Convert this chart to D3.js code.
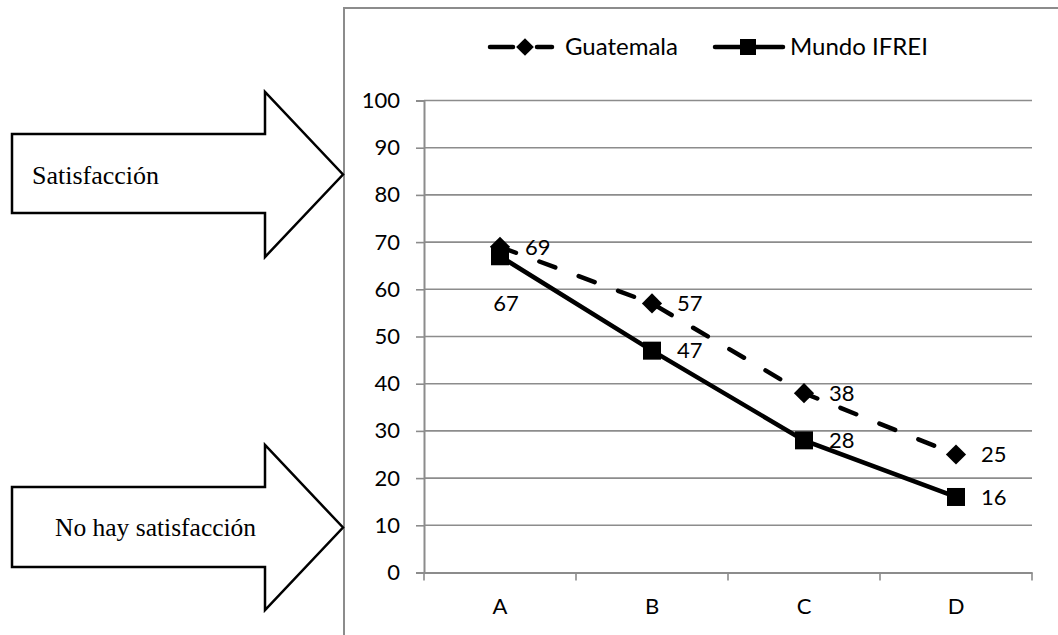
<!DOCTYPE html>
<html>
<head>
<meta charset="utf-8">
<script src="https://cdn.jsdelivr.net/npm/d3@7/dist/d3.min.js"></script>
<style>
  html, body { margin: 0; padding: 0; background: #fff; }
  svg { display: block; }
</style>
</head>
<body>
<svg id="chart" width="1058" height="635"></svg>
<script>
// Categories and the two series
const categories = ["A", "B", "C", "D"];
const guatemala = [69, 57, 38, 25];
const mundoIfrei = [67, 47, 28, 16];
const seriesNames = ["Guatemala", "Mundo IFREI"];
const yTicks = [0, 10, 20, 30, 40, 50, 60, 70, 80, 90, 100];
const arrowLabels = ["Satisfacción", "No hay satisfacción"];

const svg = d3.select("#chart");
const sans = "Lato, 'Open Sans', sans-serif";
const serif = "'Liberation Serif', 'Times New Roman', serif";
const grey = "#8c8c8c";

// Chart frame (continues past the right and bottom edges)
svg.append("rect")
  .attr("x", 344).attr("y", 8)
  .attr("width", 760).attr("height", 680)
  .attr("fill", "none").attr("stroke", grey).attr("stroke-width", 2);

// Scales
const x = d3.scaleBand().domain(categories).range([424, 1032]);
const y = d3.scaleLinear().domain([0, 100]).range([572.5, 100.5]);
const cx = c => x(c) + x.bandwidth() / 2;

// Horizontal gridlines
svg.append("g").selectAll("line")
  .data(yTicks.filter(t => t > 0))
  .join("line")
  .attr("x1", 424).attr("x2", 1032)
  .attr("y1", d => y(d)).attr("y2", d => y(d))
  .attr("stroke", grey).attr("stroke-width", 1.6);

// Y axis
const yAxis = svg.append("g")
  .attr("transform", "translate(424,0)")
  .call(d3.axisLeft(y).tickValues(yTicks).tickSize(8).tickPadding(16));
yAxis.select(".domain").attr("stroke", grey).attr("stroke-width", 2);
yAxis.selectAll(".tick line").attr("stroke", grey).attr("stroke-width", 1.6);
yAxis.selectAll("text").attr("font-family", sans).attr("font-size", 22).attr("fill", "#000");

// X axis: labels centred on categories, ticks on category boundaries
const xAxis = svg.append("g")
  .attr("transform", `translate(0,${y(0)})`)
  .call(d3.axisBottom(x).tickSize(0).tickPadding(26));
xAxis.select(".domain").attr("stroke", grey).attr("stroke-width", 2);
xAxis.selectAll("text").attr("font-family", sans).attr("font-size", 22).attr("fill", "#000");
const bounds = categories.map(c => x(c)).concat([x.range()[1]]);
svg.append("g").selectAll("line")
  .data(bounds)
  .join("line")
  .attr("x1", d => d).attr("x2", d => d)
  .attr("y1", y(0)).attr("y2", y(0) + 8)
  .attr("stroke", grey).attr("stroke-width", 1.6);

// Lines
const line = d3.line().x(d => cx(d.c)).y(d => y(d.v));
const gData = categories.map((c, i) => ({ c, v: guatemala[i] }));
const mData = categories.map((c, i) => ({ c, v: mundoIfrei[i] }));

svg.append("path").datum(gData)
  .attr("d", line).attr("fill", "none")
  .attr("stroke", "#000").attr("stroke-width", 4.5)
  .attr("stroke-linecap", "round")
  .attr("stroke-dasharray", "17,25");

svg.append("path").datum(mData)
  .attr("d", line).attr("fill", "none")
  .attr("stroke", "#000").attr("stroke-width", 4.5);

// Markers
const diamond = d3.symbol().type(d3.symbolDiamond2).size(260);
svg.append("g").selectAll("path")
  .data(gData).join("path")
  .attr("d", diamond)
  .attr("transform", d => `translate(${cx(d.c)},${y(d.v)})`)
  .attr("fill", "#000");

svg.append("g").selectAll("rect")
  .data(mData).join("rect")
  .attr("x", d => cx(d.c) - 9).attr("y", d => y(d.v) - 9)
  .attr("width", 18).attr("height", 18)
  .attr("fill", "#000");

// Data labels
svg.append("g").selectAll("text")
  .data(gData).join("text")
  .attr("x", d => cx(d.c) + 25).attr("y", d => y(d.v))
  .attr("dy", "0.35em")
  .attr("font-family", sans).attr("font-size", 22)
  .text(d => d.v);

svg.append("g").selectAll("text")
  .data(mData).join("text")
  .attr("x", (d, i) => i === 0 ? cx(d.c) + 6 : cx(d.c) + 25)
  .attr("y", (d, i) => i === 0 ? y(d.v) + 47 : y(d.v))
  .attr("dy", "0.35em")
  .attr("text-anchor", (d, i) => i === 0 ? "middle" : "start")
  .attr("font-family", sans).attr("font-size", 22)
  .text(d => d.v);

// Legend
const lg = svg.append("g");
lg.append("line").attr("x1", 490).attr("x2", 513).attr("y1", 47).attr("y2", 47)
  .attr("stroke", "#000").attr("stroke-width", 4.5).attr("stroke-linecap", "round");
lg.append("line").attr("x1", 537).attr("x2", 552).attr("y1", 47).attr("y2", 47)
  .attr("stroke", "#000").attr("stroke-width", 4.5).attr("stroke-linecap", "round");
lg.append("path").attr("d", d3.symbol().type(d3.symbolDiamond2).size(200))
  .attr("transform", "translate(525,47)").attr("fill", "#000");
lg.append("text").attr("x", 565).attr("y", 47).attr("dy", "0.35em")
  .attr("font-family", sans).attr("font-size", 24).text(seriesNames[0]);

lg.append("line").attr("x1", 715).attr("x2", 783).attr("y1", 47).attr("y2", 47)
  .attr("stroke", "#000").attr("stroke-width", 4.5).attr("stroke-linecap", "round");
lg.append("rect").attr("x", 740).attr("y", 39).attr("width", 16).attr("height", 16)
  .attr("fill", "#000");
lg.append("text").attr("x", 790).attr("y", 47).attr("dy", "0.35em")
  .attr("font-family", sans).attr("font-size", 24).text(seriesNames[1]);

// Block arrows with captions
function blockArrow(top, bottom, headTop, headBottom) {
  const shaftEnd = 265, tip = 343, left = 12;
  const mid = (headTop + headBottom) / 2;
  return `M${left},${top} L${shaftEnd},${top} L${shaftEnd},${headTop} L${tip},${mid} ` +
         `L${shaftEnd},${headBottom} L${shaftEnd},${bottom} L${left},${bottom} Z`;
}
svg.append("path").attr("d", blockArrow(134, 213, 92, 257))
  .attr("fill", "#fff").attr("stroke", "#000").attr("stroke-width", 2.5)
  .attr("stroke-linejoin", "miter");
svg.append("text").attr("x", 32).attr("y", 184)
  .attr("font-family", serif).attr("font-size", 26).text(arrowLabels[0]);

svg.append("path").attr("d", blockArrow(487, 567, 445, 610))
  .attr("fill", "#fff").attr("stroke", "#000").attr("stroke-width", 2.5)
  .attr("stroke-linejoin", "miter");
svg.append("text").attr("x", 55).attr("y", 536)
  .attr("font-family", serif).attr("font-size", 25.5).text(arrowLabels[1]);
</script>
</body>
</html>
